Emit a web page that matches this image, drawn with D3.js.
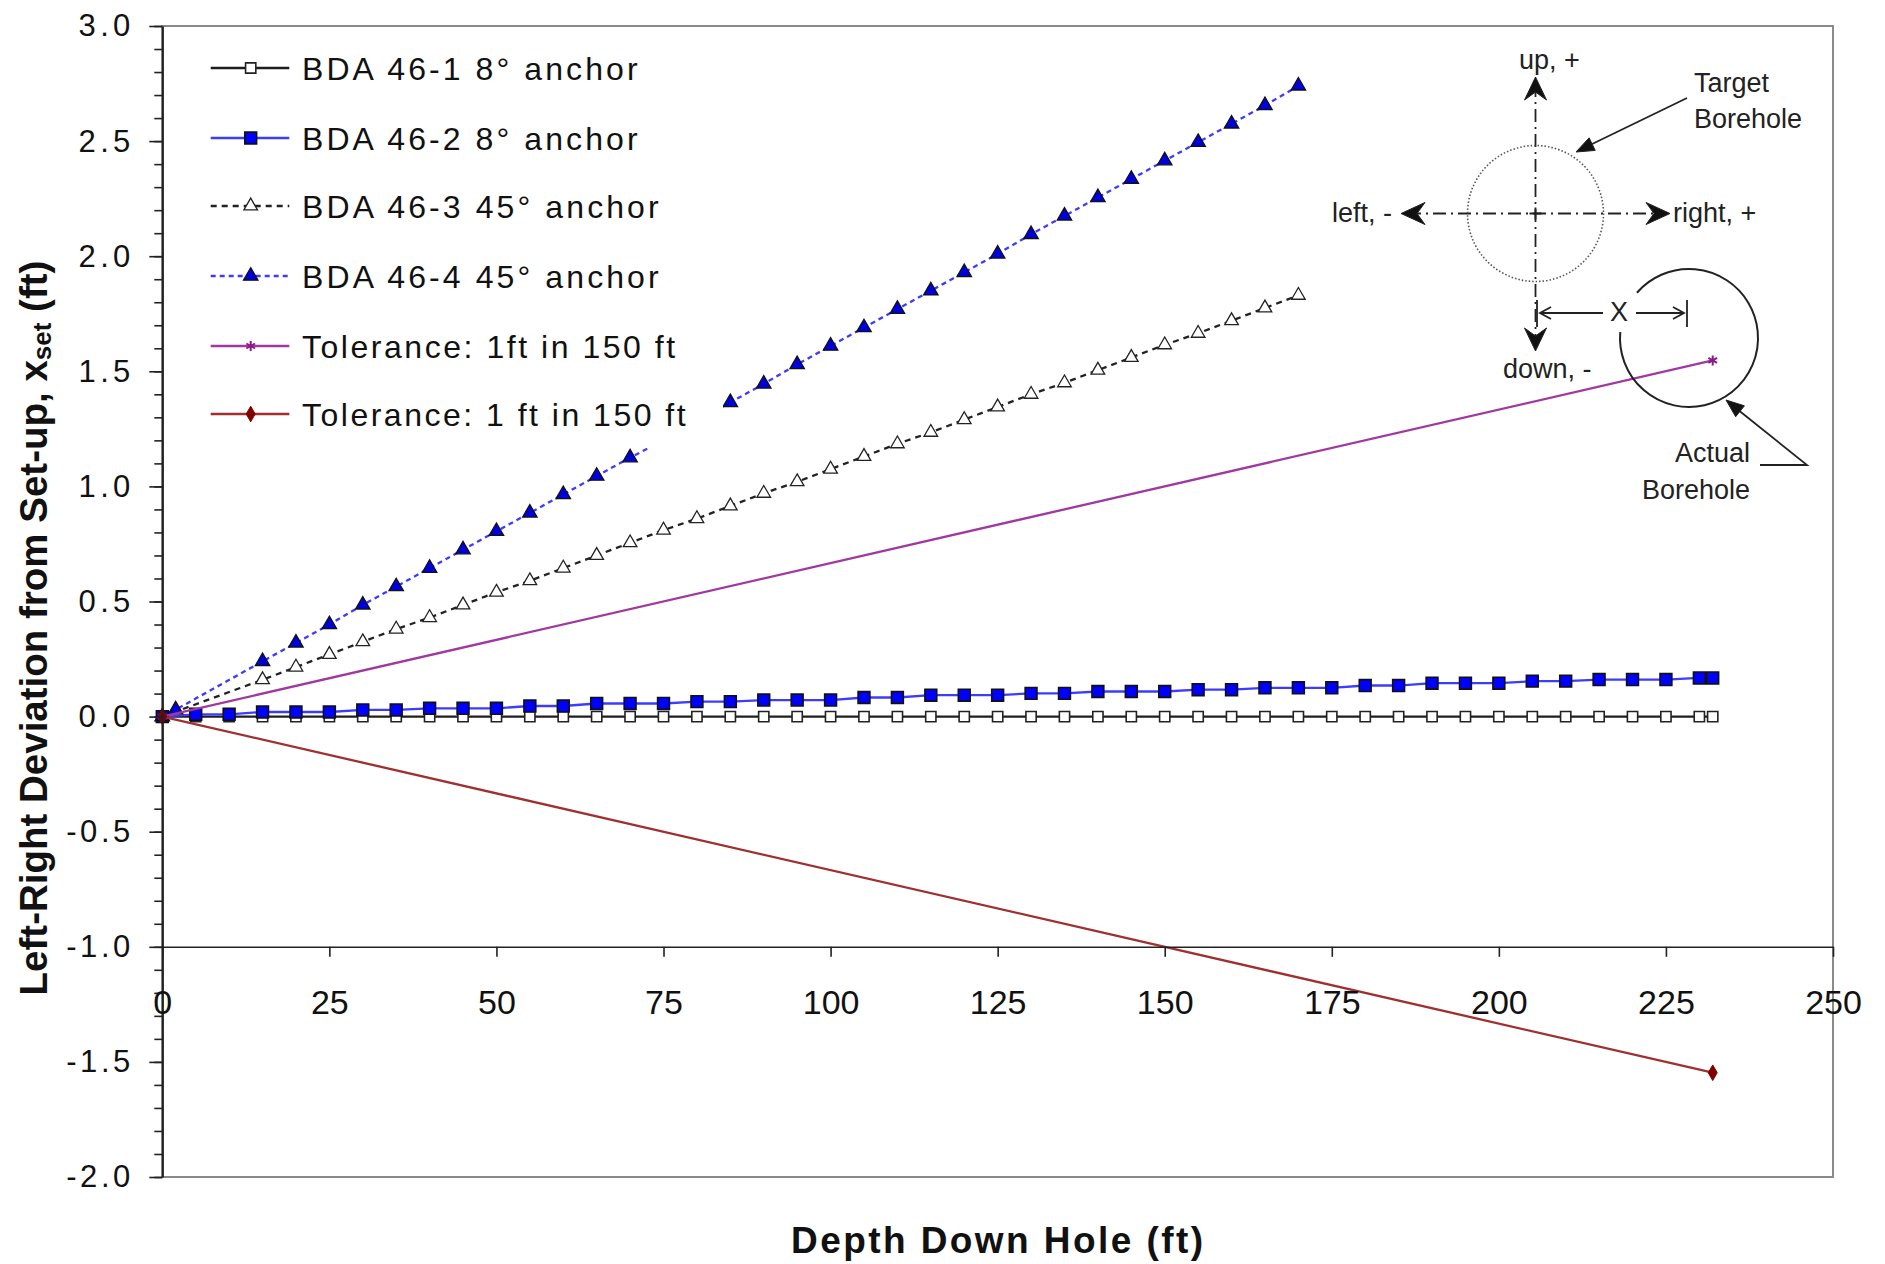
<!DOCTYPE html>
<html><head><meta charset="utf-8">
<script src="https://cdn.jsdelivr.net/npm/d3@7"></script>
<style>
body{margin:0;background:#fff;}
svg{display:block;font-family:"Liberation Sans",Arial,sans-serif;}
</style>
</head><body>
<svg id="chart" width="1885" height="1264"></svg>
<script>
// ---------------- data ----------------
const legendLabels = [
  "BDA 46-1 8\u00b0 anchor",
  "BDA 46-2 8\u00b0 anchor",
  "BDA 46-3 45\u00b0 anchor",
  "BDA 46-4 45\u00b0 anchor",
  "Tolerance: 1ft in 150 ft",
  "Tolerance: 1 ft in 150 ft"
];
const depth8 = [0,5,10,15,20,25,30,35,40,45,50,55,60,65,70,75,80,85,90,95,100,105,110,115,120,125,130,135,140,145,150,155,160,165,170,175,180,185,190,195,200,205,210,215,220,225,230,232];
const bda461 = [0,0,0,0,0,0,0,0,0,0,0,0,0,0,0,0,0,0,0,0,0,0,0,0,0,0,0,0,0,0,0,0,0,0,0,0,0,0,0,0,0,0,0,0,0,0,0,0];
const bda462 = [0,0.010,0.010,0.020,0.020,0.020,0.029,0.029,0.036,0.036,0.036,0.046,0.046,0.057,0.057,0.057,0.065,0.065,0.072,0.072,0.072,0.083,0.083,0.093,0.093,0.093,0.101,0.101,0.109,0.109,0.109,0.117,0.117,0.125,0.125,0.125,0.135,0.135,0.145,0.145,0.145,0.154,0.154,0.161,0.161,0.161,0.168,0.168];
const depth463 = [0,15,20,25,30,35,40,45,50,55,60,65,70,75,80,85,90,95,100,105,110,115,120,125,130,135,140,145,150,155,160,165,170];
const bda463 = [0,0.16,0.215,0.27,0.325,0.38,0.43,0.485,0.54,0.59,0.645,0.70,0.755,0.81,0.86,0.915,0.97,1.02,1.075,1.13,1.185,1.235,1.29,1.345,1.40,1.45,1.505,1.56,1.615,1.665,1.72,1.775,1.83];
const depth464 = [0,2,15,20,25,30,35,40,45,50,55,60,65,70,75,80,85,90,95,100,105,110,115,120,125,130,135,140,145,150,155,160,165,170];
const bda464 = [0,0.03,0.24,0.32,0.40,0.485,0.565,0.645,0.725,0.805,0.885,0.965,1.045,1.125,1.20,1.285,1.365,1.445,1.53,1.61,1.69,1.77,1.85,1.93,2.01,2.095,2.175,2.255,2.335,2.415,2.495,2.575,2.655,2.74];
const tolDepth = [0,232];
const tolUp = [0,1.547];
const tolDown = [0,-1.547];
const xTicks = [0,25,50,75,100,125,150,175,200,225,250];
const yTicks = [-2,-1.5,-1,-0.5,0,0.5,1,1.5,2,2.5,3];
const yMinor = d3.range(-20,31).map(d=>d/10);
const xTitle = "Depth Down Hole (ft)";
const yTitleMain = "Left-Right Deviation from Set-up, x";
const yTitleSub = "set";
const yTitleEnd = " (ft)";

// ---------------- chart ----------------
const svg = d3.select('#chart');
svg.append('rect').attr('width',1885).attr('height',1264).attr('fill','#fff');

const x = d3.scaleLinear().domain([0,250]).range([162.3,1833]);
const y = d3.scaleLinear().domain([-2,3]).range([1177,26]);

svg.append('rect')
  .attr('x',x(0)).attr('y',y(3))
  .attr('width',x(250)-x(0)).attr('height',y(-2)-y(3))
  .attr('fill','#fff').attr('stroke','#8a8a8a').attr('stroke-width',2);

const series = [
  {label:legendLabels[0], xs:depth8, ys:bda461, color:'#1e1e1e', dash:null, marker:d3.symbolSquare, msize:105, mfill:'#ffffff', mstroke:'#222', mw:1.6},
  {label:legendLabels[1], xs:depth8, ys:bda462, color:'#3c3cff', dash:null, marker:d3.symbolSquare, msize:140, mfill:'#0000ff', mstroke:'#111', mw:1.6},
  {label:legendLabels[2], xs:depth463, ys:bda463, color:'#222', dash:'6,5', marker:d3.symbolTriangle, msize:80, mfill:'#ffffff', mstroke:'#222', mw:1.3},
  {label:legendLabels[3], xs:depth464, ys:bda464, color:'#3c3cff', dash:'5,4', marker:d3.symbolTriangle, msize:90, mfill:'#0000dd', mstroke:'#111', mw:1.3},
  {label:legendLabels[4], xs:tolDepth, ys:tolUp, color:'#a038a0', dash:null, marker:d3.symbolAsterisk, msize:70, mfill:'none', mstroke:'#8a1a8a', mw:2},
  {label:legendLabels[5], xs:tolDepth, ys:tolDown, color:'#a03030', dash:null, marker:d3.symbolDiamond, msize:70, mfill:'#800000', mstroke:'#800000', mw:1}
];

const line = d3.line().x(d=>x(d[0])).y(d=>y(d[1]));
const gSeries = svg.append('g');
series.forEach(s=>{
  const pts = s.xs.map((v,i)=>[v,s.ys[i]]);
  gSeries.append('path').datum(pts).attr('d',line)
    .attr('fill','none').attr('stroke',s.color).attr('stroke-width',2.3)
    .attr('stroke-dasharray',s.dash);
  gSeries.append('g').selectAll('path').data(pts).join('path')
    .attr('transform',d=>`translate(${x(d[0])},${y(d[1])})`)
    .attr('d',d3.symbol(s.marker,s.msize))
    .attr('fill',s.mfill).attr('stroke',s.mstroke).attr('stroke-width',s.mw);
});

// ---------------- axes ----------------
const yAxis = svg.append('g').attr('transform',`translate(${x(0)},0)`)
  .call(d3.axisLeft(y).tickValues(yTicks).tickSize(13).tickPadding(19).tickSizeOuter(0).tickFormat(d=>d.toFixed(1)));
svg.append('g').attr('transform',`translate(${x(0)},0)`)
  .call(d3.axisLeft(y).tickValues(yMinor).tickSize(8).tickSizeOuter(0).tickFormat(''))
  .call(g=>g.select('.domain').remove())
  .selectAll('line').attr('stroke','#222').attr('stroke-width',1.6);
yAxis.select('.domain').attr('stroke','#222').attr('stroke-width',2.2);
yAxis.selectAll('line').attr('stroke','#222').attr('stroke-width',1.6);
yAxis.selectAll('text').attr('font-size',31).attr('fill','#111')
  .attr('font-family','"Liberation Sans",Arial,sans-serif')
  .each(function(){const w=this.getComputedTextLength(); d3.select(this).attr('textLength',w*1.2).attr('lengthAdjust','spacing');});

const xAxis = svg.append('g').attr('transform',`translate(0,${y(-1)})`)
  .call(d3.axisBottom(x).tickValues(xTicks).tickSize(10).tickPadding(33).tickSizeOuter(0).tickFormat(d3.format('d')));
xAxis.select('.domain').attr('stroke','#222').attr('stroke-width',1.6);
xAxis.selectAll('line').attr('stroke','#222').attr('stroke-width',1.6);
xAxis.selectAll('text').attr('font-size',34).attr('fill','#111')
  .attr('font-family','"Liberation Sans",Arial,sans-serif');

// titles
svg.append('text').attr('x',997).attr('y',1240).attr('dy','0.35em')
  .attr('text-anchor','middle').attr('font-weight','bold').attr('font-size',37)
  .attr('textLength',412).attr('lengthAdjust','spacing')
  .attr('fill','#111').text(xTitle);
const yt = svg.append('text').attr('transform','translate(34,628) rotate(-90)')
  .attr('dy','0.35em').attr('text-anchor','middle').attr('font-weight','bold')
  .attr('font-size',38.5).attr('fill','#111');
yt.append('tspan').text(yTitleMain);
yt.append('tspan').attr('font-size',26).attr('dy',4).text(yTitleSub);
yt.append('tspan').attr('dy',-4).text(yTitleEnd);

// ---------------- legend ----------------
const leg = svg.append('g');
leg.append('rect').attr('x',196).attr('y',33).attr('width',527).attr('height',415).attr('fill','#fff');
const legY = [68,138,206,276,346,414];
series.forEach((s,i)=>{
  const gy = legY[i];
  leg.append('line').attr('x1',210.7).attr('x2',289.3).attr('y1',gy).attr('y2',gy)
    .attr('stroke',s.color).attr('stroke-width',2.3).attr('stroke-dasharray',s.dash);
  leg.append('path').attr('transform',`translate(250.7,${gy})`)
    .attr('d',d3.symbol(s.marker,s.msize))
    .attr('fill',s.mfill).attr('stroke',s.mstroke).attr('stroke-width',s.mw);
  const t = leg.append('text').attr('x',302).attr('y',gy).attr('dy','0.36em')
    .attr('font-size',32).attr('fill','#111').text(s.label);
  const w = t.node().getComputedTextLength();
  t.attr('textLength',w*1.185).attr('lengthAdjust','spacing');
});

// ---------------- inset diagram ----------------
const ins = svg.append('g').attr('fill','none').attr('stroke','#222');
function head(tx,ty,ang,len,hw,notch){
  const ca=Math.cos(ang), sa=Math.sin(ang);
  const bx=tx-len*ca, by=ty-len*sa, px=-sa, py=ca;
  const nx=tx-(len-notch)*ca, ny=ty-(len-notch)*sa;
  return `M${tx},${ty}L${bx+hw*px},${by+hw*py}L${nx},${ny}L${bx-hw*px},${by-hw*py}Z`;
}
const cx0=1535.5, cy0=213.5;
ins.append('line').attr('x1',cx0).attr('x2',cx0).attr('y1',84).attr('y2',344)
  .attr('stroke-width',1.8).attr('stroke-dasharray','13,5,2,5');
ins.append('line').attr('x1',1408).attr('x2',1662).attr('y1',cy0).attr('y2',cy0)
  .attr('stroke-width',1.8).attr('stroke-dasharray','13,5,2,5');
ins.append('path').attr('d',`M${cx0-6},${cy0}H${cx0+6}M${cx0},${cy0-6}V${cy0+6}`).attr('stroke-width',1.8);
ins.append('path').attr('d',head(cx0,77,-Math.PI/2,23,11,8)).attr('fill','#111');
ins.append('path').attr('d',head(cx0,351,Math.PI/2,23,11,8)).attr('fill','#111');
ins.append('path').attr('d',head(1401,cy0,Math.PI,24,11,8)).attr('fill','#111');
ins.append('path').attr('d',head(1670,cy0,0,24,11,8)).attr('fill','#111');
ins.append('circle').attr('cx',cx0).attr('cy',cy0).attr('r',68)
  .attr('stroke','#555').attr('stroke-width',1.6).attr('stroke-dasharray','1.5,2');
const p = d3.path();
p.arc(1689,338,69,221*Math.PI/180,545*Math.PI/180);
ins.append('path').attr('d',p.toString()).attr('stroke-width',2);
ins.append('path').attr('d','M1540,313H1603M1636,313H1684M1537,300V327M1687,300V327').attr('stroke-width',1.8);
ins.append('path').attr('d','M1551,307L1540,313L1551,319M1673,307L1684,313L1673,319').attr('stroke-width',1.8);
ins.append('line').attr('x1',1687).attr('y1',98).attr('x2',1588).attr('y2',146).attr('stroke-width',1.8);
ins.append('path').attr('d',head(1576,152,Math.atan2(152-98,1576-1687),18,7,0)).attr('fill','#111');
ins.append('path').attr('d','M1760,465H1807L1737,409').attr('stroke-width',1.8);
ins.append('path').attr('d',head(1726,400,Math.atan2(400-465,1726-1807),18,7,0)).attr('fill','#111');

const tx = svg.append('g').attr('font-size',27).attr('fill','#222');
[
  ['up, +',1519,60,'start'],
  ['left, -',1332,213,'start'],
  ['right, +',1673,213,'start'],
  ['down, -',1503,369,'start'],
  ['Target',1694,83,'start'],
  ['Borehole',1694,119,'start'],
  ['X',1619,312,'middle'],
  ['Actual',1750,453,'end'],
  ['Borehole',1750,490,'end']
].forEach(d=>{
  tx.append('text').attr('x',d[1]).attr('y',d[2]).attr('dy','0.35em')
    .attr('text-anchor',d[3]).text(d[0]);
});
</script>
</body></html>
